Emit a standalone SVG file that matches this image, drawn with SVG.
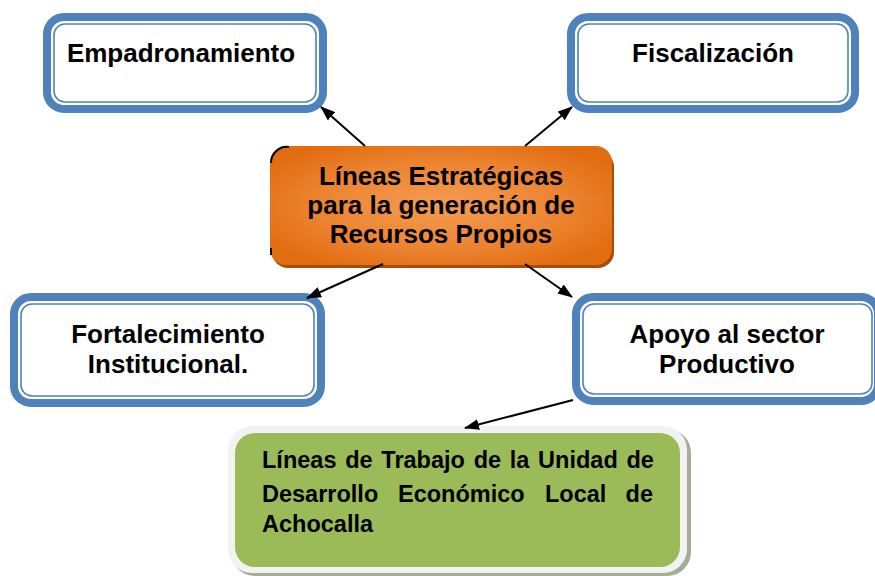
<svg xmlns="http://www.w3.org/2000/svg" width="875" height="576" viewBox="0 0 875 576">
  <defs>
    <radialGradient id="orangeGrad" cx="0.5" cy="0.5" r="0.6">
      <stop offset="0" stop-color="#f49c52"/>
      <stop offset="0.6" stop-color="#ec8431"/>
      <stop offset="1" stop-color="#e26c10"/>
    </radialGradient>
    <marker id="arrow" markerWidth="15" markerHeight="11" refX="14" refY="5.5" orient="auto" markerUnits="userSpaceOnUse">
      <path d="M0,0 L15,5.5 L0,11 Z" fill="#000"/>
    </marker>
  </defs>
  <style>
    .outer { fill: #ffffff; stroke: #4f81bd; stroke-width: 8; }
    .inner { fill: none; stroke: #4f81bd; stroke-width: 1.6; }
    .t { font-family: "Liberation Sans", Arial, sans-serif; font-weight: bold; fill: #000; }
    .big { font-size: 26px; }
    .conn { stroke: #000; stroke-width: 2; fill: none; marker-end: url(#arrow); }
  </style>
  <rect width="875" height="576" fill="#ffffff"/>

  <g id="empadronamiento">
    <rect class="outer" x="47" y="17" width="276" height="92" rx="17"/>
    <rect class="inner" x="54" y="24" width="262" height="78" rx="11"/>
    <text class="t big" x="181" y="62" text-anchor="middle">Empadronamiento</text>
  </g>

  <g id="fiscalizacion">
    <rect class="outer" x="571" y="17" width="284" height="92" rx="17"/>
    <rect class="inner" x="578" y="24" width="270" height="78" rx="11"/>
    <text class="t big" x="713" y="62" text-anchor="middle">Fiscalización</text>
  </g>

  <g id="fortalecimiento">
    <rect class="outer" x="14" y="297" width="307" height="106" rx="17"/>
    <rect class="inner" x="21" y="304" width="293" height="92" rx="11"/>
    <text class="t big" x="168" y="343" text-anchor="middle">Fortalecimiento</text>
    <text class="t big" x="168" y="373" text-anchor="middle">Institucional.</text>
  </g>

  <g id="apoyo">
    <rect class="outer" x="576" y="297" width="302" height="104" rx="17"/>
    <rect class="inner" x="583" y="304" width="289" height="90" rx="11"/>
    <text class="t big" x="727" y="343" text-anchor="middle">Apoyo al sector</text>
    <text class="t big" x="727" y="373" text-anchor="middle">Productivo</text>
  </g>

  <g id="lineas">
    <rect x="272" y="151" width="342" height="117" rx="16" fill="#a84c0a"/>
    <rect x="270" y="146" width="342" height="119" rx="16" fill="url(#orangeGrad)"/>
    <path d="M271,163 A16,16 0 0 1 289,147" fill="none" stroke="#000" stroke-width="2"/>
    <path d="M271,248 L271,255" fill="none" stroke="#000" stroke-width="2"/>
    <text class="t big" x="441" y="185" text-anchor="middle">Líneas Estratégicas</text>
    <text class="t big" x="441" y="214" text-anchor="middle">para la generación de</text>
    <text class="t big" x="441" y="243" text-anchor="middle">Recursos Propios</text>
  </g>

  <g id="trabajo">
    <rect x="231" y="429" width="460" height="147" rx="24" fill="#a5ac97"/>
    <rect x="228" y="426" width="459" height="147" rx="24" fill="#f2f2f2"/>
    <rect x="235" y="433" width="445" height="134" rx="20" fill="#9bbb59"/>
    <text class="t" font-size="23.5" x="262" y="468" word-spacing="2.2">Líneas de Trabajo de la Unidad de</text>
    <text class="t" font-size="23.5" y="502">
      <tspan x="262">Desarrollo</tspan>
      <tspan x="398">Económico</tspan>
      <tspan x="545">Local</tspan>
      <tspan x="653" text-anchor="end">de</tspan>
    </text>
    <text class="t" font-size="23.5" x="262" y="532">Achocalla</text>
  </g>

  <g id="connectors">
    <line class="conn" x1="365" y1="146" x2="321" y2="107"/>
    <line class="conn" x1="525" y1="146" x2="572" y2="107"/>
    <line class="conn" x1="383" y1="264" x2="307" y2="298"/>
    <line class="conn" x1="525" y1="264" x2="572" y2="297"/>
    <line class="conn" x1="573" y1="400" x2="465" y2="428"/>
  </g>
</svg>
